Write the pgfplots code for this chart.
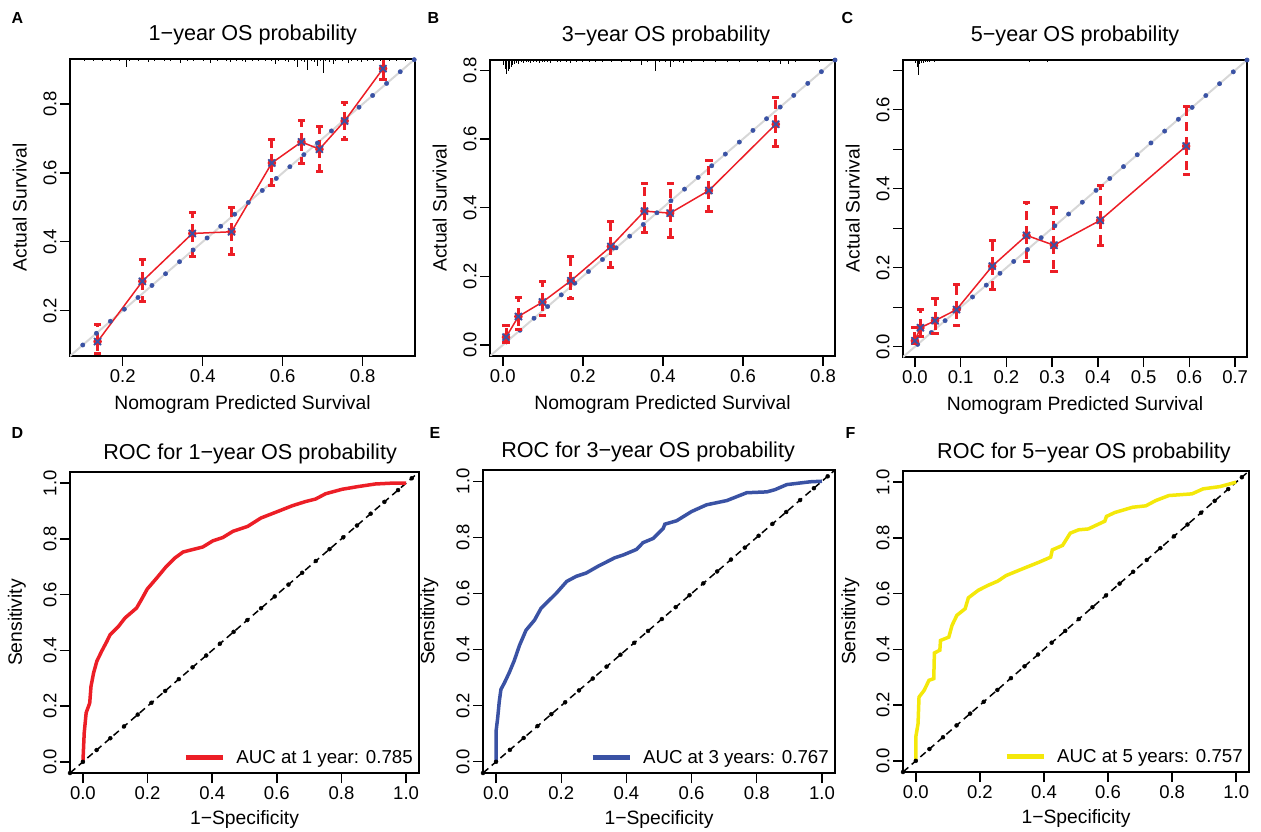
\documentclass[border=0pt]{standalone}
\usepackage{pgfplots}
\pgfplotsset{compat=1.18}
\usepackage{pgfplotstable}
\usepackage{fontspec}
\setmainfont{Liberation Sans}
\newcommand{\fs}[1]{\fontsize{#1}{#1}\selectfont}

\definecolor{calred}{RGB}{236,30,38}
\definecolor{calblue}{RGB}{58,82,164}
\definecolor{rocyellow}{RGB}{244,232,10}
\definecolor{diaggray}{RGB}{215,215,215}

% calibration points: predicted, observed, lower, upper
\pgfplotstableread{
x y lo hi
0.137 0.110 0.074 0.159
0.249 0.285 0.226 0.348
0.374 0.424 0.358 0.485
0.472 0.429 0.364 0.499
0.573 0.629 0.564 0.696
0.647 0.690 0.628 0.751
0.692 0.669 0.603 0.736
0.755 0.751 0.696 0.804
0.851 0.903 0.870 0.970
}\calA
\pgfplotstableread{
x y lo hi
0.008 0.023 0.006 0.056
0.039 0.083 0.046 0.137
0.099 0.125 0.085 0.185
0.170 0.187 0.134 0.258
0.270 0.287 0.227 0.359
0.354 0.390 0.327 0.471
0.418 0.384 0.313 0.471
0.515 0.450 0.388 0.536
0.682 0.643 0.577 0.721
}\calB
\pgfplotstableread{
x y lo hi
0.000 0.015 0.009 0.049
0.012 0.048 0.027 0.095
0.044 0.066 0.034 0.122
0.091 0.094 0.055 0.157
0.169 0.204 0.144 0.270
0.244 0.282 0.217 0.364
0.304 0.257 0.190 0.353
0.405 0.320 0.257 0.408
0.593 0.508 0.435 0.608
}\calC

% spike histogram of predictions (h in px)
\pgfplotstableread{
x h
0.098 2
0.105 3
0.112 2
0.120 2
0.127 3
0.133 2
0.141 2
0.148 3
0.155 2
0.162 2
0.170 3
0.178 2
0.185 2
0.192 3
0.200 2
0.209 9
0.216 3
0.224 2
0.232 2
0.240 3
0.248 2
0.256 2
0.264 4
0.272 2
0.280 3
0.288 2
0.296 2
0.304 3
0.312 2
0.320 3
0.328 2
0.336 2
0.345 5
0.353 2
0.361 3
0.369 2
0.377 3
0.385 2
0.393 2
0.401 3
0.410 2
0.420 5
0.428 2
0.436 3
0.444 2
0.452 2
0.460 3
0.468 4
0.476 2
0.484 3
0.492 2
0.500 3
0.508 4
0.516 2
0.524 3
0.532 2
0.540 3
0.548 2
0.556 3
0.564 2
0.572 3
0.583 6
0.590 3
0.598 2
0.606 3
0.614 4
0.622 2
0.630 3
0.638 9
0.646 3
0.654 4
0.663 12
0.671 3
0.679 4
0.688 8
0.695 3
0.701 15
0.708 3
0.716 4
0.726 6
0.733 3
0.741 2
0.749 3
0.757 2
0.764 5
0.772 3
0.780 2
0.788 3
0.796 4
0.804 2
0.812 3
0.820 2
0.828 3
0.836 2
0.844 3
0.852 5
0.860 2
0.868 3
0.876 2
0.884 3
0.892 2
0.900 2
0.908 3
0.916 2
}\rugA
\pgfplotstableread{
x h
0.002 6
0.006 10
0.009 15
0.013 12
0.017 10
0.021 8
0.025 6
0.030 5
0.035 4
0.040 5
0.046 3
0.052 4
0.058 3
0.064 3
0.070 4
0.077 3
0.084 3
0.091 4
0.098 3
0.105 3
0.112 3
0.120 4
0.128 2
0.136 3
0.144 3
0.152 2
0.160 3
0.168 4
0.176 2
0.184 3
0.192 2
0.200 3
0.208 2
0.216 3
0.224 2
0.232 3
0.240 2
0.248 3
0.256 2
0.264 2
0.272 3
0.280 2
0.288 2
0.296 3
0.304 2
0.312 2
0.320 3
0.328 2
0.336 2
0.346 6
0.354 2
0.362 3
0.370 2
0.381 12
0.390 3
0.398 2
0.406 3
0.418 8
0.426 3
0.434 2
0.442 3
0.450 4
0.460 2
0.470 3
0.480 2
0.490 2
0.500 3
0.510 2
0.520 2
0.530 3
0.540 2
0.550 2
0.560 3
0.575 2
0.590 3
0.605 2
0.620 2
0.635 3
0.650 2
0.665 3
0.680 2
0.693 5
0.713 5
0.730 3
0.750 2
0.770 2
0.790 3
}\rugB
\pgfplotstableread{
x h
0.002 4
0.005 8
0.007 16
0.010 5
0.014 4
0.018 4
0.022 3
0.027 3
0.032 3
0.037 2
0.043 3
0.049 2
0.055 2
0.061 2
0.068 2
0.075 2
0.082 2
0.090 2
0.098 2
0.106 2
0.115 2
0.124 2
0.133 2
0.142 2
0.151 2
0.160 2
0.170 2
0.180 2
0.190 2
0.200 2
0.210 2
0.220 2
0.230 2
0.240 2
0.250 3
0.260 2
0.270 2
0.280 2
0.290 3
0.300 2
0.310 2
0.320 2
0.330 2
0.340 2
0.350 2
0.360 2
0.370 2
0.380 2
0.390 2
0.400 2
0.420 2
0.440 2
0.460 2
0.480 2
0.500 2
0.520 2
0.540 2
0.560 2
0.580 2
0.600 2
0.620 2
0.640 2
0.660 2
0.680 2
0.700 2
}\rugC

% ROC curves
\pgfplotstableread{
x y
0 0
0.004 0.104
0.010 0.176
0.021 0.211
0.025 0.271
0.033 0.319
0.043 0.361
0.058 0.397
0.074 0.432
0.084 0.456
0.110 0.486
0.130 0.516
0.166 0.552
0.181 0.582
0.199 0.620
0.228 0.659
0.258 0.701
0.284 0.731
0.310 0.753
0.371 0.771
0.402 0.793
0.433 0.805
0.464 0.827
0.510 0.845
0.551 0.875
0.602 0.898
0.648 0.919
0.689 0.934
0.720 0.943
0.751 0.962
0.802 0.978
0.853 0.988
0.905 0.997
0.956 1.000
1.000 1.000
}\rocA
\pgfplotstableread{
x y
0 0
0 0.108
0.005 0.156
0.010 0.216
0.015 0.258
0.026 0.282
0.041 0.319
0.056 0.361
0.072 0.415
0.092 0.469
0.118 0.505
0.138 0.547
0.159 0.571
0.185 0.601
0.217 0.643
0.246 0.661
0.277 0.673
0.313 0.697
0.364 0.727
0.390 0.737
0.431 0.757
0.451 0.781
0.482 0.796
0.513 0.832
0.518 0.847
0.554 0.859
0.600 0.892
0.646 0.916
0.708 0.931
0.769 0.959
0.831 0.962
0.856 0.970
0.892 0.988
0.964 0.998
1.000 1.000
}\rocB
\pgfplotstableread{
x y
0 0
0 0.086
0.007 0.134
0.010 0.229
0.026 0.253
0.041 0.289
0.056 0.295
0.058 0.387
0.075 0.397
0.077 0.432
0.103 0.444
0.113 0.486
0.128 0.522
0.154 0.546
0.164 0.585
0.195 0.612
0.226 0.630
0.256 0.645
0.282 0.665
0.333 0.689
0.385 0.713
0.421 0.731
0.426 0.757
0.458 0.773
0.482 0.817
0.508 0.829
0.538 0.832
0.590 0.860
0.595 0.877
0.621 0.891
0.677 0.910
0.718 0.915
0.749 0.934
0.790 0.952
0.862 0.958
0.897 0.976
0.949 0.984
1.000 1.000
}\rocC

\pgfplotsset{
  base/.style={
    scale only axis, anchor=north west,
    axis line style={line width=1.4pt},
    tick align=outside, major tick length=10pt,
    major tick style={line width=1.4pt, black},
    tick pos=left,
    ticklabel style={font=\fs{18.5}},
    /pgf/number format/fixed, /pgf/number format/fixed zerofill,
    /pgf/number format/precision=1, /pgf/number format/assume math mode=true,
    yticklabel style={rotate=90, anchor=south},
    label style={font=\fs{19.3}},
    title style={font=\fs{21.6}, anchor=base},
    xlabel style={at={(axis description cs:0.5,0)}, anchor=base},
  },
  calib/.style={base,
    xlabel={Nomogram Predicted Survival}, ylabel={Actual Survival},
    xlabel style={yshift=-53.5pt},
  },
  roc/.style={base,
    xmin=-0.04, xmax=1.04, ymin=-0.04, ymax=1.04,
    xtick={0,0.2,0.4,0.6,0.8,1}, ytick={0,0.2,0.4,0.6,0.8,1},
    xlabel={1−Specificity}, ylabel={Sensitivity},
    xlabel style={yshift=-51pt},
    legend style={at={(axis description cs:1,0)}, anchor=south east,
      draw=none, fill=none, font=\fs{18.7}, column sep=9pt,
      xshift=-1pt, yshift=4pt},
    legend image code/.code={\draw[##1, line width=5pt] (0pt,0pt) -- (37pt,0pt);},
  },
  ideal/.style={diaggray, line width=2pt, forget plot},
  bluedots/.style={only marks, mark=*, mark size=2.2pt, calblue, forget plot},
  rug/.style={black, line width=0.8pt, mark=none, forget plot},
  cibar/.style={calred, only marks, mark=none, forget plot,
    error bars/.cd, y dir=both, y explicit, error mark=none,
    error bar style={line width=3pt, dash pattern=on 9pt off 6pt}},
  cicap/.style={calred, only marks, mark=-, mark size=3.6pt,
    mark options={line width=3pt}, forget plot},
  obsline/.style={calred, line width=1.5pt, mark=*, mark size=3.5pt, forget plot},
  corrx/.style={calblue, only marks, mark=x, mark size=5pt, line width=1.7pt, forget plot},
  chance/.style={black, line width=1.5pt, dash pattern=on 7pt off 4.5pt, forget plot},
  chancedots/.style={black, only marks, mark=*, mark size=2pt, forget plot},
}

\begin{document}
\begin{tikzpicture}
\useasboundingbox (0pt,0pt) rectangle (1261pt,-832pt);

% ---------- A ----------
\begin{axis}[calib, at={(70pt,-59pt)}, width=345pt, height=297pt,
  xmin=0.068, xmax=0.931, ymin=0.068, ymax=0.931,
  xtick={0.2,0.4,0.6,0.8}, ytick={0.2,0.4,0.6,0.8},
  title={1−year OS probability},
  title style={at={(axis description cs:0.530,1)}, yshift=12.3pt},
  ylabel style={at={(axis description cs:-0.126,0.5)}, anchor=base}]
\addplot[ideal] coordinates {(0.068,0.068) (0.931,0.931)};
\addplot[bluedots] coordinates {(0.929,0.929) (0.894,0.894) (0.860,0.860) (0.825,0.825) (0.791,0.791) (0.756,0.756) (0.722,0.722) (0.687,0.687) (0.653,0.653) (0.618,0.618) (0.584,0.584) (0.549,0.549) (0.514,0.514) (0.480,0.480) (0.445,0.445) (0.411,0.411) (0.376,0.376) (0.342,0.342) (0.307,0.307) (0.273,0.273) (0.238,0.238) (0.204,0.204) (0.169,0.169) (0.134,0.134) (0.100,0.100)};
\addplot[rug, quiver={u=0, v=-(\thisrow{h}-0.8)/344}] table[x=x, y expr=0.931] {\rugA};
\addplot[cibar] table[x=x, y=y, y error plus expr=\thisrow{hi}-\thisrow{y}, y error minus expr=\thisrow{y}-\thisrow{lo}] {\calA};
\addplot[cicap] table[x=x, y=hi] {\calA};
\addplot[cicap] table[x=x, y=lo] {\calA};
\addplot[obsline] table[x=x, y=y] {\calA};
\addplot[corrx] table[x=x, y=y] {\calA};
\end{axis}

% ---------- B ----------
\begin{axis}[calib, at={(490pt,-60pt)}, width=345pt, height=296pt,
  xmin=-0.032, xmax=0.83, ymin=-0.032, ymax=0.83,
  xtick={0,0.2,0.4,0.6,0.8}, ytick={0,0.2,0.4,0.6,0.8},
  title={3−year OS probability},
  title style={at={(axis description cs:0.510,1)}, yshift=12.3pt},
  ylabel style={at={(axis description cs:-0.126,0.5)}, anchor=base}]
\addplot[ideal] coordinates {(-0.032,-0.032) (0.83,0.83)};
\addplot[bluedots] coordinates {(0.830,0.830) (0.796,0.796) (0.762,0.762) (0.727,0.727) (0.693,0.693) (0.659,0.659) (0.625,0.625) (0.591,0.591) (0.556,0.556) (0.522,0.522) (0.488,0.488) (0.454,0.454) (0.420,0.420) (0.385,0.385) (0.351,0.351) (0.317,0.317) (0.283,0.283) (0.249,0.249) (0.214,0.214) (0.180,0.180) (0.146,0.146) (0.112,0.112) (0.078,0.078) (0.043,0.043) (0.009,0.009)};
\addplot[rug, quiver={u=0, v=-(\thisrow{h}-0.8)/343}] table[x=x, y expr=0.83] {\rugB};
\addplot[cibar] table[x=x, y=y, y error plus expr=\thisrow{hi}-\thisrow{y}, y error minus expr=\thisrow{y}-\thisrow{lo}] {\calB};
\addplot[cicap] table[x=x, y=hi] {\calB};
\addplot[cicap] table[x=x, y=lo] {\calB};
\addplot[obsline] table[x=x, y=y] {\calB};
\addplot[corrx] table[x=x, y=y] {\calB};
\end{axis}

% ---------- C ----------
\begin{axis}[calib, at={(903pt,-60pt)}, width=344pt, height=297pt,
  xmin=-0.026, xmax=0.726, ymin=-0.026, ymax=0.726,
  xtick={0,0.1,0.2,0.3,0.4,0.5,0.6,0.7},
  ytick={0,0.1,0.2,0.3,0.4,0.5,0.6,0.7},
  yticklabels={0.0,,0.2,,0.4,,0.6,},
  title={5−year OS probability},
  title style={at={(axis description cs:0.5,1)}, yshift=12.3pt},
  ylabel style={at={(axis description cs:-0.126,0.5)}, anchor=base}]
\addplot[ideal] coordinates {(-0.026,-0.026) (0.726,0.726)};
\addplot[bluedots] coordinates {(0.726,0.726) (0.696,0.696) (0.666,0.666) (0.636,0.636) (0.606,0.606) (0.576,0.576) (0.546,0.546) (0.516,0.516) (0.486,0.486) (0.456,0.456) (0.426,0.426) (0.396,0.396) (0.366,0.366) (0.336,0.336) (0.306,0.306) (0.276,0.276) (0.246,0.246) (0.216,0.216) (0.186,0.186) (0.156,0.156) (0.126,0.126) (0.096,0.096) (0.066,0.066) (0.036,0.036) (0.006,0.006)};
\addplot[rug, quiver={u=0, v=-(\thisrow{h}-0.8)/395}] table[x=x, y expr=0.726] {\rugC};
\addplot[cibar] table[x=x, y=y, y error plus expr=\thisrow{hi}-\thisrow{y}, y error minus expr=\thisrow{y}-\thisrow{lo}] {\calC};
\addplot[cicap] table[x=x, y=hi] {\calC};
\addplot[cicap] table[x=x, y=lo] {\calC};
\addplot[obsline] table[x=x, y=y] {\calC};
\addplot[corrx] table[x=x, y=y] {\calC};
\end{axis}

% ---------- D ----------
\begin{axis}[roc, at={(70pt,-472pt)}, width=349pt, height=301pt,
  title={ROC for 1−year OS probability},
  title style={at={(axis description cs:0.516,1)}, yshift=7pt},
  ylabel style={at={(axis description cs:-0.138,0.5)}, anchor=base}]
\addplot[chance] coordinates {(-0.04,-0.04) (1.04,1.04)};
\addplot[chancedots] coordinates {(-0.04,-0.04) (0,0) (0.0424,0.0424) (0.0848,0.0848) (0.1272,0.1272) (0.1696,0.1696) (0.212,0.212) (0.2544,0.2544) (0.2968,0.2968) (0.3392,0.3392) (0.3816,0.3816) (0.424,0.424) (0.4664,0.4664) (0.5088,0.5088) (0.5512,0.5512) (0.5936,0.5936) (0.636,0.636) (0.6784,0.6784) (0.7208,0.7208) (0.7632,0.7632) (0.8056,0.8056) (0.848,0.848) (0.8904,0.8904) (0.9328,0.9328) (0.9752,0.9752) (1.0176,1.0176)};
\addplot[calred, line width=3.5pt] table[x=x, y=y] {\rocA};
\addlegendentry{AUC at 1 year: 0.785}
\end{axis}

% ---------- E ----------
\begin{axis}[roc, at={(483pt,-470pt)}, width=352pt, height=303pt,
  title={ROC for 3−year OS probability},
  title style={at={(axis description cs:0.469,1)}, yshift=7pt},
  ylabel style={at={(axis description cs:-0.138,0.5)}, anchor=base}]
\addplot[chance] coordinates {(-0.04,-0.04) (1.04,1.04)};
\addplot[chancedots] coordinates {(-0.04,-0.04) (0,0) (0.0424,0.0424) (0.0848,0.0848) (0.1272,0.1272) (0.1696,0.1696) (0.212,0.212) (0.2544,0.2544) (0.2968,0.2968) (0.3392,0.3392) (0.3816,0.3816) (0.424,0.424) (0.4664,0.4664) (0.5088,0.5088) (0.5512,0.5512) (0.5936,0.5936) (0.636,0.636) (0.6784,0.6784) (0.7208,0.7208) (0.7632,0.7632) (0.8056,0.8056) (0.848,0.848) (0.8904,0.8904) (0.9328,0.9328) (0.9752,0.9752) (1.0176,1.0176)};
\addplot[calblue, line width=3.5pt] table[x=x, y=y] {\rocB};
\addlegendentry{AUC at 3 years: 0.767}
\end{axis}

% ---------- F ----------
\begin{axis}[roc, at={(903pt,-471pt)}, width=346pt, height=301pt,
  title={ROC for 5−year OS probability},
  title style={at={(axis description cs:0.523,1)}, yshift=7pt},
  ylabel style={at={(axis description cs:-0.138,0.5)}, anchor=base}]
\addplot[chance] coordinates {(-0.04,-0.04) (1.04,1.04)};
\addplot[chancedots] coordinates {(-0.04,-0.04) (0,0) (0.0424,0.0424) (0.0848,0.0848) (0.1272,0.1272) (0.1696,0.1696) (0.212,0.212) (0.2544,0.2544) (0.2968,0.2968) (0.3392,0.3392) (0.3816,0.3816) (0.424,0.424) (0.4664,0.4664) (0.5088,0.5088) (0.5512,0.5512) (0.5936,0.5936) (0.636,0.636) (0.6784,0.6784) (0.7208,0.7208) (0.7632,0.7632) (0.8056,0.8056) (0.848,0.848) (0.8904,0.8904) (0.9328,0.9328) (0.9752,0.9752) (1.0176,1.0176)};
\addplot[rocyellow, line width=3.5pt] table[x=x, y=y] {\rocC};
\addlegendentry{AUC at 5 years: 0.757}
\end{axis}

% panel letters
\node[anchor=base west, font=\bfseries\fs{16}] at (8pt,-24pt) {A};
\node[anchor=base west, font=\bfseries\fs{16}] at (424pt,-24pt) {B};
\node[anchor=base west, font=\bfseries\fs{16}] at (838pt,-24pt) {C};
\node[anchor=base west, font=\bfseries\fs{16}] at (8pt,-438pt) {D};
\node[anchor=base west, font=\bfseries\fs{16}] at (426pt,-438pt) {E};
\node[anchor=base west, font=\bfseries\fs{16}] at (842pt,-438pt) {F};
\end{tikzpicture}
\end{document}
